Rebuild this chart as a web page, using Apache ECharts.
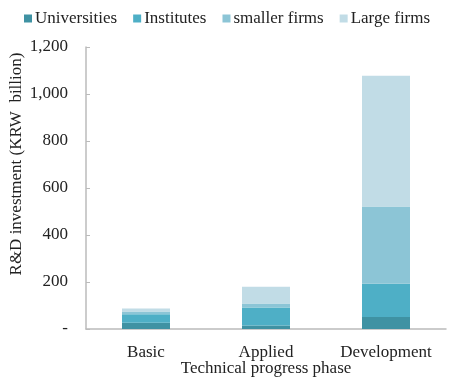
<!DOCTYPE html>
<html><head><meta charset="utf-8">
<script src="https://cdn.jsdelivr.net/npm/echarts@6/dist/echarts.min.js"></script>
<style>html,body{margin:0;padding:0;background:#fff}#c{width:450px;height:390px}</style>
</head><body><div id="c"></div>
<script>
const categories = ['Basic', 'Applied', 'Development'];
const seriesNames = ['Universities', 'Institutes', 'smaller firms', 'Large firms'];
const universities = [27, 15, 51];
const institutes = [36, 77, 142];
const smallerFirms = [11, 16, 328];
const largeFirms = [13, 72, 557];
const yTicks = [0, 200, 400, 600, 800, 1000, 1200];
const colors = ['#3f92a3', '#4eafc6', '#8cc5d6', '#c1dce6'];
const values = [universities, institutes, smallerFirms, largeFirms];
const font = '"Liberation Serif", "Times New Roman", serif';
const chart = echarts.init(document.getElementById('c'));
chart.setOption({
  animation: false,
  textStyle: { fontFamily: font },
  legend: {
    top: 5, left: 19, itemWidth: 8, itemHeight: 8, itemGap: 16,
    icon: 'rect',
    textStyle: { fontFamily: font, fontSize: 17, color: '#222', padding: [0, 0, 0, -2] },
    data: seriesNames
  },
  grid: { left: 86, right: 4, top: 47, bottom: 61, containLabel: false, outerBoundsMode: 'none' },
  xAxis: {
    type: 'category', data: categories,
    axisLine: { lineStyle: { color: '#bbb', width: 1.5 } },
    axisTick: { show: false },
    axisLabel: { fontFamily: font, fontSize: 17, color: '#222', margin: 15, interval: 0, hideOverlap: false },
    name: 'Technical progress phase', nameLocation: 'middle', nameGap: 31, nameMoveOverlap: false,
    nameTextStyle: { fontFamily: font, fontSize: 17, color: '#222' }
  },
  yAxis: {
    type: 'value', min: 0, max: 1200, interval: 200,
    axisLine: { show: true, lineStyle: { color: '#bbb', width: 1.5 } },
    axisTick: { show: true, inside: true, length: 4, lineStyle: { color: '#bbb' } },
    splitLine: { show: false },
    axisLabel: {
      fontFamily: font, fontSize: 17, color: '#222', margin: 18,
      formatter: v => v === 0 ? '-' : v.toLocaleString('en-US')
    },
    name: 'R&D investment (KRW  billion)', nameLocation: 'middle', nameGap: 61, nameMoveOverlap: false,
    nameTextStyle: { fontFamily: font, fontSize: 17, color: '#222', padding: [0, 0, 0, 48] }
  },
  series: seriesNames.map((n, i) => ({
    name: n, type: 'bar', stack: 'total', data: values[i],
    barWidth: 48, itemStyle: { color: colors[i] }
  }))
});
</script></body></html>
